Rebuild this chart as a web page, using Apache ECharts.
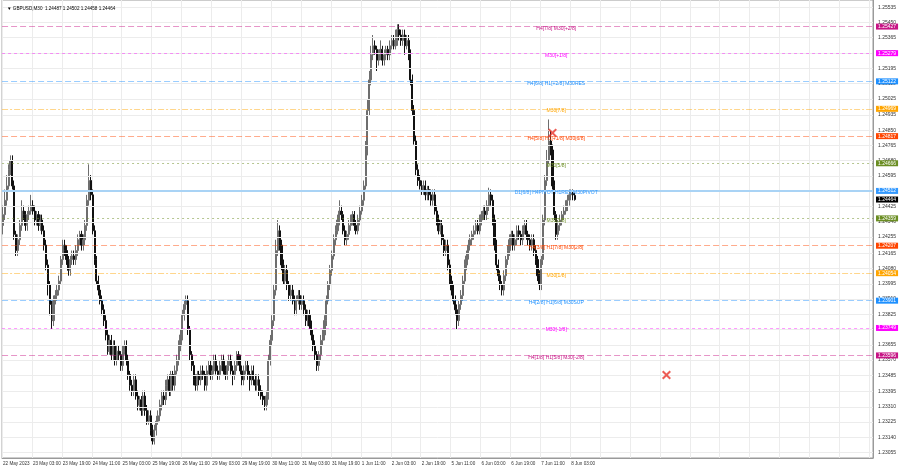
<!DOCTYPE html>
<html><head><meta charset="utf-8">
<script src="https://cdn.jsdelivr.net/npm/echarts@6/dist/echarts.min.js"></script>
<style>html,body{margin:0;padding:0;background:#fff}#c{width:900px;height:468px}</style>
</head><body><div id="c"></div>
<script>
// time-axis tick labels, one every 16 hourly candles
const tickLabels = ["22 May 2023","23 May 03:00","23 May 19:00","24 May 11:00","25 May 03:00","25 May 19:00","26 May 11:00","29 May 03:00","29 May 19:00","30 May 11:00","31 May 03:00","31 May 19:00","1 Jun 11:00","2 Jun 03:00","2 Jun 19:00","5 Jun 11:00","6 Jun 03:00","6 Jun 19:00","7 Jun 11:00","8 Jun 03:00"];
// price-axis tick labels
const priceTicks = [1.25535,1.25450,1.25365,1.25280,1.25195,1.25110,1.25025,1.24935,1.24850,1.24765,1.24680,1.24595,1.24510,1.24425,1.24340,1.24255,1.24165,1.24080,1.23995,1.23910,1.23825,1.23740,1.23655,1.23570,1.23485,1.23395,1.23310,1.23225,1.23140,1.23055];
// GBPUSD candles [open, close, low, high]
const candles = [
[1.2432,1.2438,1.2427,1.2443],[1.2438,1.2446,1.2435,1.2452],[1.2446,1.2454,1.2443,1.2460],[1.2454,1.2463,1.2452,1.2466],[1.2463,1.2468,1.2460,1.2471],[1.2468,1.2454,1.2452,1.2471],
[1.2454,1.2427,1.2424,1.2457],[1.2427,1.2418,1.2415,1.2429],[1.2418,1.2424,1.2415,1.2427],[1.2424,1.2432,1.2421,1.2435],[1.2432,1.2440,1.2429,1.2446],[1.2440,1.2438,1.2435,1.2443],
[1.2438,1.2432,1.2429,1.2440],[1.2432,1.2438,1.2429,1.2440],[1.2438,1.2440,1.2435,1.2443],[1.2440,1.2443,1.2438,1.2449],[1.2443,1.2440,1.2438,1.2446],[1.2440,1.2435,1.2432,1.2443],
[1.2435,1.2438,1.2432,1.2440],[1.2438,1.2432,1.2429,1.2440],[1.2432,1.2435,1.2429,1.2438],[1.2435,1.2429,1.2427,1.2438],[1.2429,1.2421,1.2418,1.2432],[1.2421,1.2410,1.2407,1.2424],
[1.2410,1.2399,1.2393,1.2413],[1.2399,1.2388,1.2382,1.2401],[1.2388,1.2379,1.2374,1.2390],[1.2379,1.2390,1.2376,1.2393],[1.2390,1.2393,1.2388,1.2396],[1.2393,1.2396,1.2390,1.2399],
[1.2396,1.2401,1.2393,1.2404],[1.2401,1.2413,1.2399,1.2415],[1.2413,1.2421,1.2410,1.2424],[1.2421,1.2418,1.2415,1.2424],[1.2418,1.2413,1.2410,1.2421],[1.2413,1.2407,1.2404,1.2415],
[1.2407,1.2413,1.2404,1.2415],[1.2413,1.2415,1.2410,1.2418],[1.2415,1.2413,1.2410,1.2418],[1.2413,1.2418,1.2410,1.2421],[1.2418,1.2424,1.2415,1.2427],[1.2424,1.2427,1.2421,1.2429],
[1.2427,1.2421,1.2418,1.2429],[1.2421,1.2424,1.2418,1.2427],[1.2424,1.2432,1.2421,1.2435],[1.2432,1.2446,1.2429,1.2449],[1.2446,1.2457,1.2443,1.2466],[1.2457,1.2449,1.2446,1.2460],
[1.2449,1.2429,1.2427,1.2452],[1.2429,1.2413,1.2410,1.2432],[1.2413,1.2401,1.2399,1.2415],[1.2401,1.2396,1.2393,1.2404],[1.2396,1.2390,1.2388,1.2399],[1.2390,1.2385,1.2382,1.2393],
[1.2385,1.2379,1.2376,1.2388],[1.2379,1.2371,1.2368,1.2382],[1.2371,1.2362,1.2360,1.2374],[1.2362,1.2368,1.2360,1.2371],[1.2368,1.2360,1.2357,1.2371],[1.2360,1.2365,1.2357,1.2368],
[1.2365,1.2357,1.2354,1.2368],[1.2357,1.2362,1.2354,1.2365],[1.2362,1.2360,1.2357,1.2365],[1.2360,1.2354,1.2351,1.2362],[1.2354,1.2362,1.2351,1.2365],[1.2362,1.2365,1.2360,1.2368],
[1.2365,1.2357,1.2354,1.2368],[1.2357,1.2349,1.2346,1.2360],[1.2349,1.2343,1.2340,1.2351],[1.2343,1.2340,1.2337,1.2346],[1.2340,1.2346,1.2337,1.2349],[1.2346,1.2337,1.2335,1.2349],
[1.2337,1.2332,1.2329,1.2340],[1.2332,1.2335,1.2329,1.2337],[1.2335,1.2329,1.2326,1.2337],[1.2329,1.2337,1.2326,1.2340],[1.2337,1.2329,1.2326,1.2340],[1.2329,1.2323,1.2321,1.2332],
[1.2323,1.2326,1.2321,1.2329],[1.2326,1.2318,1.2315,1.2329],[1.2318,1.2312,1.2310,1.2321],[1.2312,1.2318,1.2310,1.2321],[1.2318,1.2323,1.2315,1.2326],[1.2323,1.2326,1.2321,1.2329],
[1.2326,1.2332,1.2323,1.2335],[1.2332,1.2337,1.2329,1.2340],[1.2337,1.2335,1.2332,1.2340],[1.2335,1.2343,1.2332,1.2346],[1.2343,1.2346,1.2340,1.2349],[1.2346,1.2340,1.2337,1.2349],
[1.2340,1.2349,1.2337,1.2351],[1.2349,1.2343,1.2340,1.2351],[1.2343,1.2351,1.2340,1.2354],[1.2351,1.2357,1.2349,1.2360],[1.2357,1.2365,1.2354,1.2368],[1.2365,1.2371,1.2362,1.2374],
[1.2371,1.2382,1.2368,1.2385],[1.2382,1.2388,1.2379,1.2390],[1.2388,1.2390,1.2385,1.2393],[1.2390,1.2374,1.2371,1.2393],[1.2374,1.2360,1.2357,1.2376],[1.2360,1.2354,1.2351,1.2362],
[1.2354,1.2346,1.2343,1.2357],[1.2346,1.2343,1.2340,1.2349],[1.2343,1.2349,1.2340,1.2351],[1.2349,1.2346,1.2343,1.2351],[1.2346,1.2351,1.2343,1.2354],[1.2351,1.2349,1.2346,1.2354],
[1.2349,1.2343,1.2340,1.2351],[1.2343,1.2351,1.2340,1.2354],[1.2351,1.2354,1.2349,1.2357],[1.2354,1.2349,1.2346,1.2357],[1.2349,1.2351,1.2346,1.2354],[1.2351,1.2357,1.2349,1.2360],
[1.2357,1.2351,1.2349,1.2360],[1.2351,1.2349,1.2346,1.2354],[1.2349,1.2354,1.2346,1.2357],[1.2354,1.2357,1.2351,1.2360],[1.2357,1.2351,1.2349,1.2360],[1.2351,1.2349,1.2346,1.2354],
[1.2349,1.2354,1.2346,1.2357],[1.2354,1.2357,1.2351,1.2360],[1.2357,1.2351,1.2349,1.2360],[1.2351,1.2349,1.2343,1.2354],[1.2349,1.2354,1.2346,1.2357],[1.2354,1.2360,1.2351,1.2362],
[1.2360,1.2357,1.2354,1.2362],[1.2357,1.2351,1.2349,1.2360],[1.2351,1.2346,1.2343,1.2354],[1.2346,1.2351,1.2343,1.2354],[1.2351,1.2354,1.2349,1.2357],[1.2354,1.2349,1.2346,1.2357],
[1.2349,1.2346,1.2340,1.2351],[1.2346,1.2351,1.2343,1.2354],[1.2351,1.2346,1.2343,1.2354],[1.2346,1.2343,1.2340,1.2349],[1.2343,1.2346,1.2340,1.2349],[1.2346,1.2340,1.2337,1.2349],
[1.2340,1.2337,1.2335,1.2343],[1.2337,1.2335,1.2332,1.2340],[1.2335,1.2332,1.2329,1.2337],[1.2332,1.2337,1.2329,1.2340],[1.2337,1.2357,1.2335,1.2360],[1.2357,1.2368,1.2354,1.2371],
[1.2368,1.2379,1.2365,1.2382],[1.2379,1.2396,1.2376,1.2399],[1.2396,1.2418,1.2393,1.2424],[1.2418,1.2429,1.2415,1.2435],[1.2429,1.2421,1.2418,1.2432],[1.2421,1.2410,1.2407,1.2424],
[1.2410,1.2401,1.2399,1.2413],[1.2401,1.2407,1.2399,1.2410],[1.2407,1.2399,1.2396,1.2410],[1.2399,1.2393,1.2390,1.2401],[1.2393,1.2396,1.2390,1.2399],[1.2396,1.2390,1.2388,1.2399],
[1.2390,1.2385,1.2382,1.2393],[1.2385,1.2390,1.2382,1.2393],[1.2390,1.2393,1.2388,1.2396],[1.2393,1.2388,1.2385,1.2396],[1.2388,1.2390,1.2385,1.2393],[1.2390,1.2385,1.2382,1.2393],
[1.2385,1.2379,1.2376,1.2388],[1.2379,1.2382,1.2376,1.2385],[1.2382,1.2376,1.2374,1.2385],[1.2376,1.2371,1.2368,1.2379],[1.2371,1.2365,1.2362,1.2374],[1.2365,1.2360,1.2357,1.2368],
[1.2360,1.2354,1.2351,1.2362],[1.2354,1.2360,1.2351,1.2362],[1.2360,1.2368,1.2357,1.2371],[1.2368,1.2371,1.2365,1.2374],[1.2371,1.2379,1.2368,1.2382],[1.2379,1.2390,1.2376,1.2393],
[1.2390,1.2399,1.2388,1.2401],[1.2399,1.2407,1.2396,1.2410],[1.2407,1.2415,1.2404,1.2418],[1.2415,1.2424,1.2413,1.2427],[1.2424,1.2429,1.2421,1.2432],[1.2429,1.2435,1.2427,1.2438],
[1.2435,1.2440,1.2432,1.2446],[1.2440,1.2438,1.2435,1.2443],[1.2438,1.2429,1.2427,1.2440],[1.2429,1.2424,1.2421,1.2432],[1.2424,1.2427,1.2421,1.2429],[1.2427,1.2432,1.2424,1.2435],
[1.2432,1.2435,1.2429,1.2438],[1.2435,1.2438,1.2432,1.2440],[1.2438,1.2432,1.2429,1.2440],[1.2432,1.2429,1.2427,1.2435],[1.2429,1.2435,1.2427,1.2438],[1.2435,1.2440,1.2432,1.2443],
[1.2440,1.2446,1.2438,1.2449],[1.2446,1.2454,1.2443,1.2457],[1.2454,1.2474,1.2452,1.2479],[1.2474,1.2496,1.2471,1.2502],[1.2496,1.2513,1.2493,1.2518],[1.2513,1.2527,1.2510,1.2532],
[1.2527,1.2532,1.2524,1.2538],[1.2532,1.2530,1.2527,1.2535],[1.2530,1.2524,1.2518,1.2532],[1.2524,1.2527,1.2521,1.2530],[1.2527,1.2530,1.2524,1.2535],[1.2530,1.2524,1.2521,1.2532],
[1.2524,1.2527,1.2521,1.2530],[1.2527,1.2530,1.2524,1.2532],[1.2530,1.2527,1.2524,1.2532],[1.2527,1.2532,1.2524,1.2535],[1.2532,1.2535,1.2530,1.2538],[1.2535,1.2532,1.2530,1.2538],
[1.2532,1.2535,1.2530,1.2541],[1.2535,1.2541,1.2532,1.2544],[1.2541,1.2538,1.2535,1.2544],[1.2538,1.2535,1.2532,1.2541],[1.2535,1.2538,1.2532,1.2541],[1.2538,1.2532,1.2527,1.2541],
[1.2532,1.2535,1.2530,1.2538],[1.2535,1.2527,1.2524,1.2538],[1.2527,1.2513,1.2510,1.2530],[1.2513,1.2496,1.2493,1.2516],[1.2496,1.2479,1.2477,1.2499],[1.2479,1.2463,1.2460,1.2482],
[1.2463,1.2457,1.2454,1.2466],[1.2457,1.2454,1.2452,1.2460],[1.2454,1.2452,1.2449,1.2457],[1.2452,1.2454,1.2449,1.2457],[1.2454,1.2449,1.2446,1.2457],[1.2449,1.2452,1.2446,1.2454],
[1.2452,1.2449,1.2446,1.2454],[1.2449,1.2446,1.2443,1.2452],[1.2446,1.2449,1.2443,1.2452],[1.2449,1.2440,1.2438,1.2452],[1.2440,1.2435,1.2432,1.2443],[1.2435,1.2429,1.2427,1.2438],
[1.2429,1.2432,1.2427,1.2435],[1.2432,1.2424,1.2421,1.2435],[1.2424,1.2418,1.2415,1.2427],[1.2418,1.2421,1.2415,1.2424],[1.2421,1.2410,1.2407,1.2424],[1.2410,1.2401,1.2399,1.2413],
[1.2401,1.2396,1.2393,1.2404],[1.2396,1.2390,1.2388,1.2399],[1.2390,1.2385,1.2382,1.2393],[1.2385,1.2379,1.2374,1.2388],[1.2379,1.2388,1.2376,1.2390],[1.2388,1.2393,1.2385,1.2396],
[1.2393,1.2401,1.2390,1.2404],[1.2401,1.2410,1.2399,1.2413],[1.2410,1.2415,1.2407,1.2418],[1.2415,1.2421,1.2413,1.2424],[1.2421,1.2424,1.2418,1.2427],[1.2424,1.2427,1.2421,1.2429],
[1.2427,1.2429,1.2424,1.2432],[1.2429,1.2432,1.2427,1.2435],[1.2432,1.2429,1.2427,1.2435],[1.2429,1.2435,1.2427,1.2438],[1.2435,1.2438,1.2432,1.2440],[1.2438,1.2440,1.2435,1.2443],
[1.2440,1.2438,1.2435,1.2443],[1.2438,1.2443,1.2435,1.2446],[1.2443,1.2449,1.2440,1.2453],[1.2449,1.2446,1.2443,1.2452],[1.2446,1.2435,1.2432,1.2449],[1.2435,1.2421,1.2418,1.2438],
[1.2421,1.2410,1.2407,1.2424],[1.2410,1.2404,1.2401,1.2413],[1.2404,1.2399,1.2396,1.2407],[1.2399,1.2396,1.2393,1.2401],[1.2396,1.2404,1.2393,1.2407],[1.2404,1.2413,1.2401,1.2415],
[1.2413,1.2418,1.2410,1.2421],[1.2418,1.2424,1.2415,1.2427],[1.2424,1.2427,1.2421,1.2429],[1.2427,1.2421,1.2418,1.2429],[1.2421,1.2424,1.2418,1.2427],[1.2424,1.2429,1.2421,1.2432],
[1.2429,1.2427,1.2424,1.2432],[1.2427,1.2424,1.2421,1.2429],[1.2424,1.2429,1.2421,1.2432],[1.2429,1.2432,1.2427,1.2435],[1.2432,1.2427,1.2424,1.2435],[1.2427,1.2424,1.2421,1.2429],
[1.2424,1.2421,1.2418,1.2427],[1.2421,1.2424,1.2418,1.2427],[1.2424,1.2418,1.2415,1.2427],[1.2418,1.2413,1.2410,1.2421],[1.2413,1.2404,1.2401,1.2415],[1.2404,1.2399,1.2396,1.2407],
[1.2399,1.2413,1.2396,1.2415],[1.2413,1.2435,1.2410,1.2438],[1.2435,1.2457,1.2432,1.2460],[1.2457,1.2468,1.2454,1.2474],[1.2468,1.2479,1.2466,1.2491],[1.2479,1.2474,1.2471,1.2485],
[1.2474,1.2454,1.2452,1.2477],[1.2454,1.2438,1.2435,1.2457],[1.2438,1.2427,1.2424,1.2440],[1.2427,1.2432,1.2424,1.2435],[1.2432,1.2435,1.2429,1.2438],[1.2435,1.2438,1.2432,1.2440],
[1.2438,1.2440,1.2435,1.2443],[1.2440,1.2443,1.2438,1.2446],[1.2443,1.2446,1.2440,1.2449],[1.2446,1.2449,1.2443,1.2452],[1.2449,1.2450,1.2446,1.2452],[1.2450,1.2449,1.2446,1.2452],
[1.24487,1.24464,1.24458,1.24502]
];
// level lines
const levelPrices = [1.25427,1.25279,1.25122,1.24969,1.24817,1.24666,1.24512,1.24359,1.24207,1.24054,1.23901,1.23749,1.23596];
const levelNames = ["H4[7/8] M30[+2/8]","M30[+1/8]","H4[6/8] H1[+2/8] M30RES","M30[7/8]","H4[5/8] H1[+1/8] M30[6/8]","M30[5/8]","D1[6/8] H4PIVOT H1RES M30PIVOT","M30[3/8]","H4[3/8] H1[7/8] M30[2/8]","M30[1/8]","H4[2/8] H1[6/8] M30SUP","M30[-1/8]","H4[1/8] H1[5/8] M30[-2/8]"];
const currentPrice = 1.24464;
// red cross markers [candle index, price]
const markerIdx = [294, 355];
const markerPrice = [1.24835, 1.23487];

// styles
const levelColors = ["#C71585","#FF00FF","#1E90FF","#FFA500","#FF4500","#6B8E23","#3399FF","#6B8E23","#FF4500","#FFA500","#1E90FF","#FF00FF","#C71585"];
const levelLineColors = ["rgba(199,21,133,0.45)","rgba(255,0,255,0.4)","rgba(30,144,255,0.45)","rgba(255,165,0,0.45)","rgba(255,69,0,0.45)","rgba(107,142,35,0.5)","#a9d3f5","rgba(107,142,35,0.5)","rgba(255,69,0,0.45)","rgba(255,165,0,0.45)","rgba(30,144,255,0.45)","rgba(255,0,255,0.4)","rgba(199,21,133,0.45)"];
const levelDash = [[6,3],[3,3],[6,3],[6,2,2,2],[6,3],[2,3],'solid',[2,3],[6,3],[6,2,2,2],[6,3],[3,3],[6,3]];
const N = 466, LABEL_IDX = 296;
const FONT = 'Liberation Sans, Arial, sans-serif';

const categories = Array.from({length: N}, (_, i) => String(i));
const tickSet = new Set(priceTicks.map(v => v.toFixed(5)));

const tagLabel = (text, bg) => ({show: true, position: 'end', distance: 3, formatter: text,
  backgroundColor: bg, color: '#fff', fontSize: 5, fontFamily: FONT, padding: [1, 2, 0, 2]});
const levelLines = levelPrices.map((p, k) => ({
  yAxis: p,
  lineStyle: {color: levelLineColors[k], width: k === 6 ? 2 : 1, type: levelDash[k]},
  label: tagLabel(p.toFixed(5), levelColors[k])
}));
levelLines.push({yAxis: currentPrice, lineStyle: {color: 'rgba(0,0,0,0)', width: 0},
  label: tagLabel(currentPrice.toFixed(5), '#000')});
const levelTexts = levelPrices.map((p, k) => ({
  coord: [LABEL_IDX, p], symbolSize: 0,
  label: {show: true, position: 'inside', offset: [0, 2], formatter: levelNames[k],
          color: levelColors[k], fontSize: 5, fontFamily: FONT}
}));

const chart = echarts.init(document.getElementById('c'), null, {renderer: 'canvas'});
chart.setOption({
  animation: false,
  backgroundColor: '#fff',
  title: {text: '\u25BC GBPUSD,M30  1.24487 1.24502 1.24458 1.24464', left: 2, top: 1,
          textStyle: {fontSize: 4.6, fontWeight: 'normal', color: '#000', fontFamily: FONT}},
  grid: {left: 0, top: 0, right: 27, bottom: 10, show: true, borderColor: '#9a9a9a', borderWidth: 1},
  xAxis: {
    type: 'category', data: categories, boundaryGap: true,
    axisLine: {show: true, lineStyle: {color: '#9a9a9a'}},
    axisTick: {show: false},
    axisLabel: {
      interval: (i) => i % 16 === 0 && i / 16 < tickLabels.length,
      formatter: (v, i) => tickLabels[Math.round(i / 16)] || '',
      align: 'left', margin: 3, fontSize: 4.6, color: '#333', fontFamily: FONT
    },
    splitLine: {show: true, interval: (i) => i % 16 === 0, lineStyle: {color: '#ececec', width: 1}}
  },
  yAxis: {
    type: 'value', position: 'right', min: 1.23025, max: 1.25575, interval: 0.00005, scale: true,
    axisLine: {show: true, lineStyle: {color: '#9a9a9a'}},
    axisTick: {show: false},
    splitLine: {show: false},
    axisLabel: {margin: 5, fontSize: 5, color: '#333', fontFamily: FONT,
      formatter: (v) => tickSet.has(v.toFixed(5)) ? v.toFixed(5) : ''}
  },
  series: [
    {
      type: 'line', data: [], z: 1, silent: true,
      markLine: {silent: true, symbol: 'none', animation: false, precision: 6, label: {show: false},
        lineStyle: {color: '#ececec', width: 1, type: 'solid'},
        data: priceTicks.map(p => ({yAxis: p}))}
    },
    {
      type: 'candlestick', data: candles, barWidth: 1.6, z: 3,
      itemStyle: {color: '#6e6e6e', color0: '#111', borderColor: '#6e6e6e', borderColor0: '#111', borderWidth: 1},
      markLine: {silent: true, symbol: 'none', animation: false, precision: 6, data: levelLines},
      markPoint: {silent: true, symbol: 'circle', animation: false, data: levelTexts}
    },
    {
      type: 'scatter', z: 5, silent: true,
      data: markerIdx.map((x, k) => [x, markerPrice[k]]),
      symbol: 'path://M0,1.6L1.6,0L5,3.4L8.4,0L10,1.6L6.6,5L10,8.4L8.4,10L5,6.6L1.6,10L0,8.4L3.4,5Z',
      symbolSize: 9, itemStyle: {color: '#e8352b'}
    }
  ]
});
</script>
</body></html>
